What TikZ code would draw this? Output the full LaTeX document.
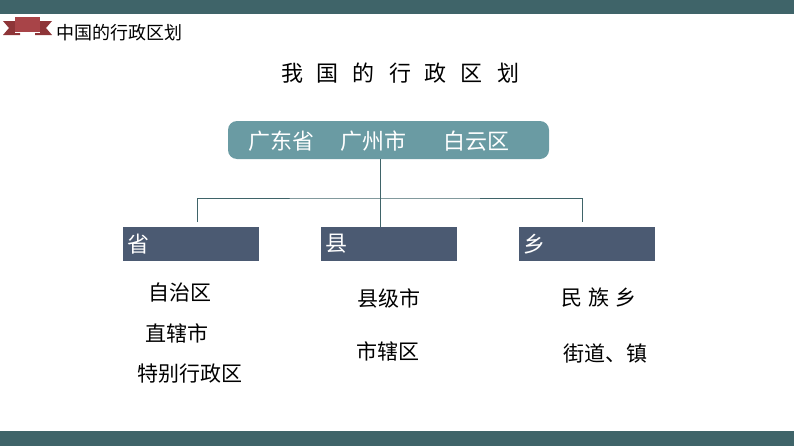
\documentclass[tikz,border=0pt]{standalone}
\usepackage{fontspec}
\setmainfont{Noto Sans CJK SC}
\usetikzlibrary{positioning}
\definecolor{barteal}{HTML}{3F6469}
\definecolor{headteal}{HTML}{6A9BA3}
\definecolor{levelblue}{HTML}{4B5A72}
\definecolor{ribbonred}{HTML}{A84448}
\definecolor{ribbondark}{HTML}{8E3538}
\tikzset{
    levelbox/.style={fill=levelblue, minimum width=136pt, minimum height=34pt, inner sep=0pt},
    leveltext/.style={text=white, font=\fontsize{22}{22}\selectfont, anchor=west, inner sep=4pt},
    itemtext/.style={font=\fontsize{21}{21}\selectfont, text=black},
    link/.style={draw=barteal, line width=1pt}
}
\begin{document}
\begin{tikzpicture}[x=1pt, y=-1pt]
    \useasboundingbox (0, 0) rectangle (794, 447);
    % bars
    \fill[barteal] (0, 0) rectangle (794, 14);
    \fill[barteal] (0, 431) rectangle (794, 446);
    % ribbon
    \fill[ribbondark] (3, 21) -- (20, 21) -- (20, 35) -- (3, 35) -- (9, 28) -- cycle;
    \fill[ribbondark] (52, 21) -- (35, 21) -- (35, 35) -- (52, 35) -- (46, 28) -- cycle;
    \fill[ribbonred] (15, 17) rectangle (40, 32);
    \draw[white, line width=0.6pt] (15, 32) -- (40, 32);
    \node[anchor=west, font=\fontsize{18}{18}\selectfont, inner sep=0pt] (heading) at (56, 33) {中国的行政区划};
    \node[font=\fontsize{22}{22}\selectfont] (title) at (400, 73) {我\hspace{14pt}国\hspace{14pt}的\hspace{14pt}行\hspace{14pt}政\hspace{14pt}区\hspace{14pt}划};
    % top box
    \node[fill=headteal, rounded corners=9pt, minimum width=321pt, minimum height=38pt, inner sep=0pt] (top) at (388.5, 140) {};
    \node[text=white, font=\fontsize{22}{22}\selectfont, anchor=west, inner sep=0pt] at (248, 141) {广东省\hspace{26pt}广州市\hspace{37pt}白云区};
    % level boxes
    \node[levelbox] (sheng) at (191, 244) {};
    \node[levelbox] (xian) at (389, 244) {};
    \node[levelbox] (xiang) at (587, 244) {};
    \node[leveltext] at (sheng.west) {省};
    \node[leveltext] at (xian.west) {县};
    \node[leveltext] at (xiang.west) {乡};
    % connectors
    \coordinate (fork) at (380, 198);
    \draw[link] (380, 159) -- (380, 227);
    \draw[link] (197, 222) |- (fork) -| (582, 222);
    % items
    \node[itemtext] (s1) at (180, 293) {自治区};
    \node[itemtext] (s2) at (177, 333) {直辖市};
    \node[itemtext] (s3) at (190, 374) {特别行政区};
    \node[itemtext] (x1) at (389, 298) {县级市};
    \node[itemtext] (x2) at (388, 351) {市辖区};
    \node[itemtext] (z1) at (599, 298) {民\hspace{6pt}族\hspace{6pt}乡};
    \node[itemtext] (z2) at (605, 353) {街道、镇};
\end{tikzpicture}
\end{document}
